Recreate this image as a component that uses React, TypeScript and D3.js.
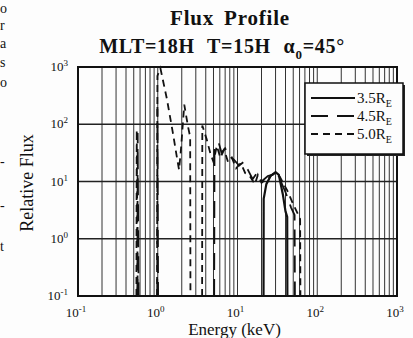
import React, { useEffect, useRef } from 'react';
import * as d3 from 'd3';

// axis decades (keV and relative flux)
const energyDecades = [0.1, 1, 10, 100, 1000];
const fluxDecades = [0.1, 1, 10, 100, 1000];
const decadeExponents = ['-1', '0', '1', '2', '3'];

// series; null marks a gap between pieces of the same curve
const energy35 = [21.2, 21.3, 23, 26, 30, 33, 37, 40, 42, 42.2];
const flux35 = [0.1, 5, 9, 12.5, 14.5, 13, 6, 3, 2.4, 0.1];

const energy45 = [0.555, 0.56, 0.575, null, 0.985, 0.99, 1.01, null, 5.1, 5.15, 5.8, 6.3, 7.0, 7.8, 9, 10.5, 12, 13.5, 15.5, 17.5, 20, 24, 29, 34, 40, 47, 52, 52.5];
const flux45 = [0.1, 70, 0.1, null, 0.1, 200, 0.1, null, 0.1, 40, 48, 32, 38, 28, 24, 19, 22, 16, 11, 14, 10, 12.5, 13.5, 11, 6.5, 3.5, 2.6, 0.1];

const energy50 = [0.54, 0.545, 0.56, null, 0.98, 0.99, 1.08, 1.3, 1.55, 1.75, 1.85, 1.95, 2.15, 2.4, 2.55, 2.57, null, 3.6, 3.62, 4.1, 4.6, 5.0, 5.5, 6.1, 6.8, 7.6, 8.5, 9.6, 11, 12.5, 14.5, 16.5, 18, 20, 24, 29, 34, 42, 50, 58, 61, 61.5];
const flux50 = [0.1, 80, 0.1, null, 0.1, 700, 950, 280, 70, 25, 16, 35, 220, 90, 60, 0.1, null, 0.1, 95, 55, 30, 22, 42, 26, 36, 22, 26, 17, 21, 14, 12, 9, 13, 9.5, 11.5, 14, 12, 7, 4, 2.6, 2.2, 0.1];

const seriesNames = ['3.5', '4.5', '5.0'];
const seriesDash = ['none', '17 9', '7 5'];

// clipped lines of the scanned page at the left edge
const marginLetters = ['o', 'r', 'a', 's', 'o', '-', '-', 't'];
const marginLetterY = [13, 30, 48, 67, 87, 166, 210, 251];

const W = 413;
const H = 338;
const margin = { top: 67, right: 16, bottom: 42, left: 78 };

const App: React.FC = () => {
  const svgRef = useRef<SVGSVGElement>(null);

  useEffect(() => {
    if (!svgRef.current) return;
    const root = d3.select(svgRef.current);
    root.selectAll('*').remove();

    const innerW = W - margin.left - margin.right;
    const innerH = H - margin.top - margin.bottom;
    const font = '"Liberation Serif", "DejaVu Serif", serif';

    root.append('rect').attr('width', W).attr('height', H).attr('fill', '#fdfdfd');

    const x = d3.scaleLog().domain([0.1, 1000]).range([0, innerW]);
    const y = d3.scaleLog().domain([0.1, 1000]).range([innerH, 0]);

    const g = root.append('g').attr('transform', `translate(${margin.left},${margin.top})`);

    // vertical grid: every minor value
    const minorTicks = x.ticks(40);
    g.selectAll('.vgrid')
      .data(minorTicks)
      .enter()
      .append('line')
      .attr('x1', (d) => x(d))
      .attr('x2', (d) => x(d))
      .attr('y1', 0)
      .attr('y2', innerH)
      .style('stroke', '#333')
      .style('stroke-width', 1);

    // horizontal grid: decades only
    g.selectAll('.hgrid')
      .data(fluxDecades)
      .enter()
      .append('line')
      .attr('x1', 0)
      .attr('x2', innerW)
      .attr('y1', (d) => y(d))
      .attr('y2', (d) => y(d))
      .style('stroke', '#222')
      .style('stroke-width', 1.3);

    // curves
    const line = d3
      .line<[number | null, number | null]>()
      .defined((d) => d[0] !== null && d[1] !== null)
      .x((d) => x(d[0] as number))
      .y((d) => y(d[1] as number));

    const series = [
      d3.zip(energy35, flux35),
      d3.zip(energy45, flux45),
      d3.zip(energy50, flux50),
    ] as [number | null, number | null][][];

    series.forEach((pts, i) => {
      g.append('path')
        .datum(pts)
        .attr('d', line)
        .style('fill', 'none')
        .style('stroke', '#111')
        .style('stroke-width', i === 0 ? 2.2 : 1.8)
        .style('stroke-dasharray', seriesDash[i]);
    });

    // frame
    g.append('rect')
      .attr('width', innerW)
      .attr('height', innerH)
      .style('fill', 'none')
      .style('stroke', '#111')
      .style('stroke-width', 2);

    // y tick labels
    const yLab = g
      .selectAll('.ylab')
      .data(fluxDecades)
      .enter()
      .append('text')
      .attr('x', -10)
      .attr('y', (d) => y(d) + 4)
      .attr('text-anchor', 'end')
      .style('font-family', font)
      .style('font-size', '13px')
      .style('fill', '#111');
    yLab.append('tspan').text('10');
    yLab
      .append('tspan')
      .attr('dy', -5)
      .style('font-size', '9px')
      .text((_d, i) => decadeExponents[i]);

    // x tick labels
    const xLab = g
      .selectAll('.xlab')
      .data(energyDecades)
      .enter()
      .append('text')
      .attr('x', (d) => x(d) - 2)
      .attr('y', innerH + 21)
      .attr('text-anchor', 'middle')
      .style('font-family', font)
      .style('font-size', '13px')
      .style('fill', '#111');
    xLab.append('tspan').text('10');
    xLab
      .append('tspan')
      .attr('dy', -5)
      .style('font-size', '9px')
      .text((_d, i) => decadeExponents[i]);

    // axis titles
    root
      .append('text')
      .attr('x', margin.left + innerW / 2 - 3)
      .attr('y', 335)
      .attr('text-anchor', 'middle')
      .style('font-family', font)
      .style('font-size', '17px')
      .style('fill', '#111')
      .text('Energy (keV)');

    root
      .append('text')
      .attr('transform', 'translate(33,183) rotate(-90)')
      .attr('text-anchor', 'middle')
      .style('font-family', font)
      .style('font-size', '18px')
      .style('fill', '#111')
      .text('Relative Flux');

    // titles
    root
      .append('text')
      .attr('x', 230)
      .attr('y', 25)
      .attr('text-anchor', 'middle')
      .style('font-family', font)
      .style('font-size', '21px')
      .style('font-weight', 'bold')
      .style('letter-spacing', '0.8px')
      .style('word-spacing', '4px')
      .style('fill', '#111')
      .text('Flux Profile');

    const sub = root
      .append('text')
      .attr('x', 222)
      .attr('y', 53)
      .attr('text-anchor', 'middle')
      .style('font-family', font)
      .style('font-size', '20px')
      .style('font-weight', 'bold')
      .style('letter-spacing', '0.7px')
      .style('word-spacing', '7px')
      .style('fill', '#111');
    sub.append('tspan').text('MLT=18H T=15H \u03b1');
    sub.append('tspan').attr('dy', 6).style('font-size', '13px').text('0');
    sub.append('tspan').attr('dy', -6).text('=45\u00b0');

    // legend
    const lg = root.append('g').attr('transform', 'translate(305,83)');
    lg.append('rect')
      .attr('x', 2)
      .attr('y', 2)
      .attr('width', 98)
      .attr('height', 71)
      .style('fill', '#222');
    lg.append('rect')
      .attr('width', 98)
      .attr('height', 71)
      .style('fill', '#fdfdfd')
      .style('stroke', '#111')
      .style('stroke-width', 1.5);
    seriesNames.forEach((name, i) => {
      const ly = 15 + i * 18;
      lg.append('line')
        .attr('x1', 6)
        .attr('x2', 50)
        .attr('y1', ly)
        .attr('y2', ly)
        .style('stroke', '#111')
        .style('stroke-width', 1.8)
        .style('stroke-dasharray', seriesDash[i]);
      const t = lg
        .append('text')
        .attr('x', 52)
        .attr('y', ly + 5)
        .style('font-family', font)
        .style('font-size', '15px')
        .style('fill', '#111');
      t.append('tspan').text(`${name}R`);
      t.append('tspan').attr('dy', 4).style('font-size', '10px').text('E');
    });

    // page text fragments at the left edge
    root
      .selectAll('.frag')
      .data(marginLetters)
      .enter()
      .append('text')
      .attr('x', 0)
      .attr('y', (_d, i) => marginLetterY[i])
      .style('font-family', font)
      .style('font-size', '14px')
      .style('fill', '#111')
      .text((d) => d);
  }, []);

  return (
    <svg
      ref={svgRef}
      width={W}
      height={H}
      style={{ position: 'absolute', left: 0, top: 0, display: 'block' }}
    />
  );
};

export default App;
